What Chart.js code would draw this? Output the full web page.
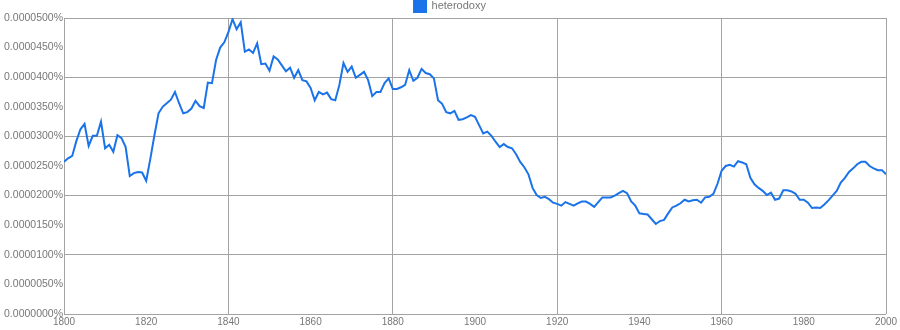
<!DOCTYPE html>
<html>
<head>
<meta charset="utf-8">
<title>heterodoxy</title>
<script src="https://cdn.jsdelivr.net/npm/chart.js@4/dist/chart.umd.min.js"></script>
<style>
  html, body { margin: 0; padding: 0; background: #fff; }
  #wrap { width: 900px; height: 330px; }
</style>
</head>
<body>
<div id="wrap"><canvas id="chart" width="900" height="330"></canvas></div>
<script>
// Frecuencia de "heterodoxy" 1800-2000, en unidades de 1e-7 %
var seriesName = 'heterodoxy';
var firstYear = 1800;
var yTicksStep = 50;     // 0.0000050%
var xTicksStep = 20;

var values = [
  257, 263, 267, 292, 312, 321, 284, 301, 301, 325,   // 1800
  280, 286, 274, 302, 297, 282, 233, 238, 240, 239,   // 1810
  225, 262, 302, 339, 350, 356, 362, 375, 356, 339,   // 1820
  341, 347, 360, 351, 348, 391, 390, 429, 450, 459,   // 1830
  476, 498, 481, 493, 443, 447, 441, 457, 422, 423,   // 1840
  411, 435, 430, 420, 410, 416, 399, 412, 395, 393,   // 1850
  382, 361, 375, 371, 374, 363, 361, 387, 424, 409,   // 1860
  418, 399, 404, 409, 395, 368, 375, 375, 390, 398,   // 1870
  380, 380, 383, 387, 412, 394, 399, 414, 407, 405,   // 1880
  398, 361, 355, 341, 339, 343, 328, 329, 332, 336,   // 1890
  333, 319, 305, 308, 301, 291, 282, 287, 282, 280,   // 1900
  270, 257, 248, 236, 213, 201, 196, 198, 194, 188,   // 1910
  186, 183, 189, 186, 183, 187, 190, 190, 186, 181,   // 1920
  189, 197, 197, 197, 200, 204, 208, 204, 190, 183,   // 1930
  170, 169, 168, 160, 152, 157, 159, 170, 180, 183,   // 1940
  187, 193, 190, 192, 193, 188, 197, 198, 203, 220,   // 1950
  242, 250, 252, 249, 258, 256, 253, 230, 219, 213,   // 1960
  208, 201, 205, 193, 195, 209, 209, 207, 203, 193,   // 1970
  193, 188, 179, 180, 179, 185, 192, 200, 208, 222,   // 1980
  230, 240, 246, 253, 257, 257, 250, 246, 243, 243,   // 1990
  236                                                 // 2000
];

var lineColor = '#1a73e8';
var gridColor = '#a3a3a3';
var textColor = '#777777';
var fontFamily = '"Liberation Sans", Arial, sans-serif';

var points = values.map(function(v, i) {
  return { x: firstYear + i, y: v };
});

new Chart(document.getElementById('chart'), {
  type: 'line',
  data: {
    datasets: [{
      label: seriesName,
      data: points,
      borderColor: lineColor,
      backgroundColor: lineColor,
      borderWidth: 2,
      tension: 0,
      pointRadius: 0,
      fill: false
    }]
  },
  options: {
    responsive: false,
    animation: false,
    layout: { padding: 0 },
    plugins: {
      tooltip: { enabled: false },
      legend: {
        display: true,
        position: 'top',
        maxHeight: 18,
        labels: {
          boxWidth: 12,
          boxHeight: 12,
          padding: 0,
          color: textColor,
          font: { family: fontFamily, size: 11 }
        }
      }
    },
    scales: {
      x: {
        type: 'linear',
        min: 1800,
        max: 2000,
        border: { display: false },
        grid: {
          drawTicks: false,
          lineWidth: 1,
          color: function(c) {
            return c.tick && c.tick.value % 40 === 0 ? gridColor : 'rgba(0,0,0,0)';
          }
        },
        ticks: {
          stepSize: xTicksStep,
          padding: 2,
          maxRotation: 0,
          color: textColor,
          font: { family: fontFamily, size: 10 },
          callback: function(v) { return String(v); }
        },
        afterFit: function(scale) { scale.height = 16; }
      },
      y: {
        min: 0,
        max: 500,
        border: { display: false },
        grid: {
          drawTicks: false,
          lineWidth: 1,
          color: function(c) {
            return c.tick && c.tick.value % 100 === 0 ? gridColor : 'rgba(0,0,0,0)';
          }
        },
        ticks: {
          stepSize: yTicksStep,
          padding: 1,
          color: textColor,
          font: { family: fontFamily, size: 10.5 },
          callback: function(v) { return (v / 1e7).toFixed(7) + '%'; }
        },
        afterFit: function(scale) { scale.width = 64; }
      },
      // eje vacío a la derecha: deja el margen derecho sin descentrar la leyenda
      margenDer: {
        position: 'right',
        display: true,
        border: { display: false },
        grid: { display: false },
        ticks: { display: false },
        afterFit: function(scale) { scale.width = 14; }
      }
    }
  }
});
</script>
</body>
</html>
